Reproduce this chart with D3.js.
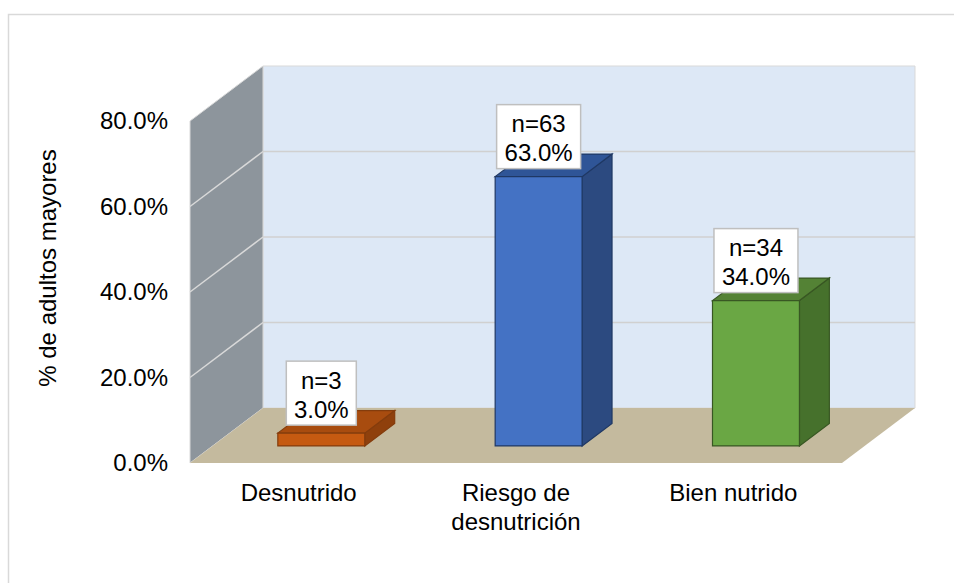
<!DOCTYPE html>
<html>
<head>
<meta charset="utf-8">
<script src="https://cdn.jsdelivr.net/npm/d3@7"></script>
<style>
  body { margin: 0; background: #fff; }
  text { font-family: "Liberation Sans", Arial, sans-serif; fill: #000; }
</style>
</head>
<body>
<div id="chart"></div>
<script>
const width = 954;
const height = 583;

// datos
const categorias = ["Desnutrido", "Riesgo de desnutrición", "Bien nutrido"];
const etiquetas = [["Desnutrido"], ["Riesgo de", "desnutrición"], ["Bien nutrido"]];
const n = [3, 63, 34];
const porcentajes = [3.0, 63.0, 34.0];
const ticks = [0, 20, 40, 60, 80];

const colores = [
  { front: "#c55a11", side: "#8f400c", top: "#a84c0f", stroke: "#843c0c" },
  { front: "#4472c4", side: "#2c4a80", top: "#2f5597", stroke: "#1f3864" },
  { front: "#6aa744", side: "#46712c", top: "#548235", stroke: "#385723" }
];

// geometría 3D
const x0 = 190, x1 = 842, yFloor = 463;
const depthX = 73, depthY = -55;
const proj = (x, h, z) => [x + z * depthX, yFloor - h + z * depthY];

const svg = d3.select("#chart").append("svg")
  .attr("width", width).attr("height", height);

// marco exterior
svg.append("rect")
  .attr("x", 8.5).attr("y", 14.5)
  .attr("width", 1000).attr("height", 1000)
  .attr("fill", "none").attr("stroke", "#d9d9d9").attr("stroke-width", 1.5);

const x = d3.scaleBand().domain(categorias).range([x0, x1]).paddingInner(0).paddingOuter(0);
const y = d3.scaleLinear().domain([0, 80]).range([0, 342]);

const poly = pts => "M" + pts.map(p => p.join(",")).join("L") + "Z";
const yTop = y(80);

// pared trasera
svg.append("path")
  .attr("d", poly([proj(x0, 0, 1), proj(x1, 0, 1), proj(x1, yTop, 1), proj(x0, yTop, 1)]))
  .attr("fill", "#dde8f6").attr("stroke", "#d9d9d9").attr("stroke-width", 1);

// pared izquierda
svg.append("path")
  .attr("d", poly([proj(x0, 0, 0), proj(x0, 0, 1), proj(x0, yTop, 1), proj(x0, yTop, 0)]))
  .attr("fill", "#8d959c").attr("stroke", "#d9d9d9").attr("stroke-width", 1);

// suelo
svg.append("path")
  .attr("d", poly([proj(x0, 0, 0), proj(x1, 0, 0), proj(x1, 0, 1), proj(x0, 0, 1)]))
  .attr("fill", "#c4ba9e");

// líneas de cuadrícula
ticks.filter(t => t > 0 && t < 80).forEach(t => {
  const a = proj(x0, y(t), 1), b = proj(x1, y(t), 1), c = proj(x0, y(t), 0);
  svg.append("line").attr("x1", a[0]).attr("y1", a[1]).attr("x2", b[0]).attr("y2", b[1])
    .attr("stroke", "#d0d0d0").attr("stroke-width", 1.5);
  svg.append("line").attr("x1", c[0]).attr("y1", c[1]).attr("x2", a[0]).attr("y2", a[1])
    .attr("stroke", "#d9d9d9").attr("stroke-width", 1.5);
});

// etiquetas del eje y
svg.selectAll(".ytick").data(ticks).enter().append("text")
  .attr("x", 168).attr("y", d => yFloor - y(d))
  .attr("dy", "0.35em").attr("text-anchor", "end")
  .style("font-size", "24px")
  .text(d => d.toFixed(1) + "%");

svg.append("text")
  .attr("transform", "translate(56,268) rotate(-90)")
  .attr("text-anchor", "middle")
  .style("font-size", "24px")
  .text("% de adultos mayores");

// barras
const zf = 0.31, zb = 0.72;
const bw = x.bandwidth() * 0.4;
categorias.forEach((c, i) => {
  const cx = x(c) + x.bandwidth() / 2;
  const l = cx - bw / 2, r = cx + bw / 2;
  const h = y(porcentajes[i]);
  const col = colores[i];
  const g = svg.append("g");
  g.append("path")
    .attr("d", poly([proj(r, 0, zf), proj(r, 0, zb), proj(r, h, zb), proj(r, h, zf)]))
    .attr("fill", col.side).attr("stroke", col.stroke).attr("stroke-width", 1.2);
  g.append("path")
    .attr("d", poly([proj(l, h, zf), proj(r, h, zf), proj(r, h, zb), proj(l, h, zb)]))
    .attr("fill", col.top).attr("stroke", col.stroke).attr("stroke-width", 1.2);
  g.append("path")
    .attr("d", poly([proj(l, 0, zf), proj(r, 0, zf), proj(r, h, zf), proj(l, h, zf)]))
    .attr("fill", col.front).attr("stroke", col.stroke).attr("stroke-width", 1.2);

  // etiqueta de datos
  const [fx, fy] = proj(cx, h, zf);
  const lines = ["n=" + n[i], porcentajes[i].toFixed(1) + "%"];
  const boxW = lines[1].length > 4 ? 84 : 70;
  const boxH = 64;
  const bx = fx - boxW / 2, by = fy - 8 - boxH;
  g.append("rect")
    .attr("x", bx).attr("y", by).attr("width", boxW).attr("height", boxH)
    .attr("fill", "#fff").attr("stroke", "#bfbfbf").attr("stroke-width", 1.5);
  lines.forEach((t, k) => {
    g.append("text")
      .attr("x", fx).attr("y", by + 19 + k * 29)
      .attr("dy", "0.35em").attr("text-anchor", "middle")
      .style("font-size", "24px")
      .text(t);
  });
});

// etiquetas de categorías
categorias.forEach((c, i) => {
  const cx = x(c) + x.bandwidth() / 2;
  etiquetas[i].forEach((t, k) => {
    svg.append("text")
      .attr("x", cx).attr("y", 501 + k * 29)
      .attr("text-anchor", "middle")
      .style("font-size", "24px")
      .text(t);
  });
});
</script>
</body>
</html>
